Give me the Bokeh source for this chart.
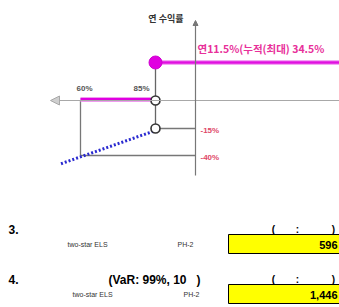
import numpy as np
from bokeh.plotting import figure
from bokeh.models import Range1d, Arrow, NormalHead, ColumnDataSource
from bokeh.core.properties import value
from bokeh.embed import file_html
from bokeh.resources import INLINE

# ---- payoff diagram values (two-star ELS) ----
ki_barrier = 60            # knock-in barrier, % of initial price
redemption_barrier = 85    # early redemption barrier, %
reference_level = 100
coupon_rate = 11.5         # annual coupon %
cum_coupon = 34.5          # cumulative coupon %
loss_at_barrier = -15      # return at 85%
loss_at_ki = -40           # return at 60%
price_labels = ["60%", "85%"]
loss_labels = ["-15%", "-40%"]
axis_title = "연 수익률"
coupon_label = "연11.5%(누적(최대) 34.5%"

# ---- table values ----
row_titles = ["3.", "4."]
row_notes = ["", "(VaR: 99%, 10\u00a0\u00a0\u00a0)"]
products = ["two-star ELS", "two-star ELS"]
codes = ["PH-2", "PH-2"]
amounts = [596, 1446]

# schematic (not to scale) mapping of the diagram
P_ANCH = [50, 60, 85, 100, 150]
P_PIX = [50, 80, 155, 195, 345]
R_ANCH = [-50, -40, -15, 0, 11.5, 50]
R_PIX = [170, 155, 128, 100, 62, 20]


def px(p):
    return float(np.interp(p, P_ANCH, P_PIX))


def py(r):
    return float(np.interp(r, R_ANCH, R_PIX))


FONT = value("Liberation Sans")
KFONT = value("Noto Sans CJK KR")

p = figure(width=339, height=307, x_range=Range1d(0, 339), y_range=Range1d(307, 0),
           output_backend="svg", toolbar_location=None, min_border=0)
p.axis.visible = False
p.grid.visible = False
p.outline_line_color = None
p.background_fill_color = "white"

x0 = px(reference_level)
xb = px(redemption_barrier)
xk = px(ki_barrier)
y0 = py(0)

# x axis (price) with arrow to the left
p.add_layout(Arrow(end=NormalHead(size=9, fill_color="#cfcfcf", line_color="#a8a8a8"),
                   x_start=px(150), y_start=y0, x_end=px(50), y_end=y0,
                   line_color="#a8a8a8", line_width=1.2))
# y axis (return) with arrow up
p.add_layout(Arrow(end=NormalHead(size=5, fill_color="#777777", line_color="#777777"),
                   x_start=x0, y_start=py(-50) + 5, x_end=x0, y_end=py(50),
                   line_color="#777777", line_width=1.2))

# loss structure lines (grey)
p.line([xb, xb], [py(coupon_rate), py(loss_at_barrier)], line_color="#666666", line_width=1.3)
p.line([xb, x0], [py(loss_at_barrier), py(loss_at_barrier)], line_color="#777777", line_width=1.3)
p.line([xk, x0], [py(loss_at_ki), py(loss_at_ki)], line_color="#777777", line_width=1.3)
p.line([xk, xk], [y0, py(loss_at_ki)], line_color="#777777", line_width=1.3)

# blue dotted loss line
p.line([px(53.5), xb], [py(-45.5), py(loss_at_barrier) + 2], line_color="#2a2ad0",
       line_width=3, line_dash="2 2")

# magenta coupon line and zero-return segment
p.line([xb, px(150)], [py(coupon_rate), py(coupon_rate)], line_color="#f3a6f3", line_width=5)
p.line([xb, px(150)], [py(coupon_rate), py(coupon_rate)], line_color="#e010e0", line_width=2.5)
p.line([xk, xb], [y0 - 1, y0 - 1], line_color="#f09af0", line_width=5)
p.line([xk, xb], [y0 - 1, y0 - 1], line_color="#e000e0", line_width=3)

# points
p.scatter([xb], [py(coupon_rate)], size=13, fill_color="#e000e0", line_color="#d000d0")
p.scatter([xb, xb], [y0, py(loss_at_barrier)], size=9, fill_color="white",
          line_color="#333333", line_width=1.6)

# diagram labels
p.text([px(ki_barrier) + 4, px(redemption_barrier) - 14], [y0 - 12, y0 - 12], text=price_labels,
       text_font=FONT, text_font_size="8px", text_color="#555555", text_align="center",
       text_baseline="middle", text_font_style="bold")
p.text([x0 + 5, x0 + 5], [py(loss_at_barrier) + 2, py(loss_at_ki) + 2], text=loss_labels,
       text_font=FONT, text_font_size="8px", text_color="#e04868", text_align="left",
       text_baseline="middle", text_font_style="bold")
p.text([x0 + 2], [py(coupon_rate) - 14], text=[coupon_label], text_font=KFONT,
       text_font_size="10.5px", text_color="#e8309a", text_align="left", text_baseline="middle",
       text_font_style="bold")
p.text([x0 - 12], [py(50) - 2], text=[axis_title], text_font=KFONT, text_font_size="9px",
       text_color="#333333", text_align="right", text_baseline="middle", text_font_style="bold")

# ---- table rows ----
row_y = [229, 279]
src = ColumnDataSource(dict(
    y=row_y, ys=[r + 15 for r in row_y], title=row_titles, note=row_notes,
    prod=products, code=codes, amt=[f"{a:,}" for a in amounts],
    prod_x=[67, 72], code_x=[177, 183],
    top=[r + 5 for r in row_y], bottom=[r + 24 for r in row_y],
))
p.text(x=8, y="y", text="title", source=src, text_font=FONT, text_font_size="12px",
       text_font_style="bold", text_color="black", text_baseline="middle")
p.text(x=108, y="y", text="note", source=src, text_font=FONT, text_font_size="12px",
       text_font_style="bold", text_color="black", text_baseline="middle")
p.text(x="prod_x", y="ys", text="prod", source=src, text_font=FONT, text_font_size="7px",
       text_color="#333333", text_baseline="middle")
p.text(x="code_x", y="ys", text="code", source=src, text_font=FONT, text_font_size="7px",
       text_color="#333333", text_baseline="middle")
p.quad(left=228, right=345, top="top", bottom="bottom", source=src,
       fill_color="#ffff00", line_color="black", line_width=1)
p.text(x=337, y="ys", text="amt", source=src, text_font=FONT, text_font_size="11px",
       text_font_style="bold", text_color="black", text_align="right", text_baseline="middle")
for sym, xs in (("(", 273), (":", 297), (")", 333)):
    p.text(x=xs, y="y", text=value(sym), source=src, text_font=FONT, text_font_size="10px",
           text_font_style="bold", text_color="black", text_align="center",
           text_baseline="middle")

open("out.html", "w").write(file_html(p, INLINE))
